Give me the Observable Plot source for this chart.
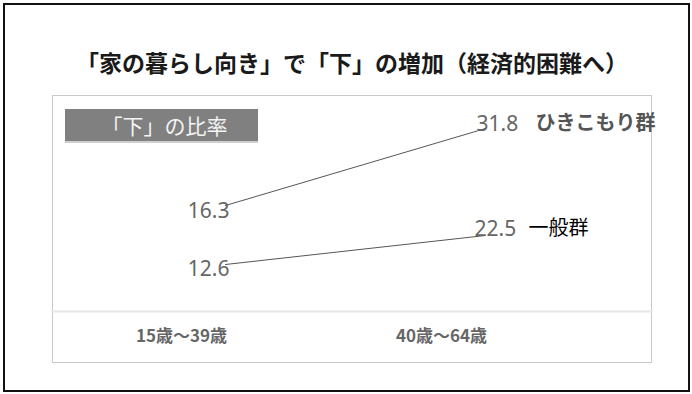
<!DOCTYPE html>
<html>
<head>
<meta charset="utf-8">
<script src="https://cdn.jsdelivr.net/npm/d3@7"></script>
<script src="https://cdn.jsdelivr.net/npm/@observablehq/plot@0.6"></script>
<style>
  html, body { margin: 0; padding: 0; background: #fff; }
  #wrap { position: relative; width: 692px; height: 394px; overflow: hidden; font-family: "Noto Sans CJK JP", "Noto Sans", sans-serif; }
  #border { position: absolute; left: 3px; top: 3px; width: 683px; height: 385px; border: 2px solid #111; }
  #title { position: absolute; left: 0; top: 47px; width: 692px; text-align: center; font-size: 23px; line-height: 30px; font-weight: bold; color: #1a1a1a; padding-left: 12px; box-sizing: border-box; }
  #tag { position: absolute; left: 65px; top: 109px; width: 193px; height: 34px; background: #808080; border-bottom: 2px solid #cfcfcf; color: #f4f4f4; font-size: 21px; line-height: 32px; text-align: center; padding-left: 6px; box-sizing: border-box; }
  .layer { position: absolute; left: 0; top: 80px; }
</style>
</head>
<body>
<div id="wrap">
  <div id="border"></div>
  <div id="title">「家の暮らし向き」で「下」の増加（経済的困難へ）</div>
  <div id="tag">「下」の比率</div>
  <div id="plotA" class="layer"></div>
  <div id="plotB" class="layer"></div>
</div>
<script>
// ---- data ----
const categories = ["15歳～39歳", "40歳～64歳"];
const hikikomoriValues = [16.3, 31.8];
const generalValues = [12.6, 22.5];
const seriesNames = ["ひきこもり群", "一般群"];

const hikikomori = categories.map((c, i) => ({category: c, value: hikikomoriValues[i], series: seriesNames[0]}));
const general = categories.map((c, i) => ({category: c, value: generalValues[i], series: seriesNames[1]}));

const common = {
  width: 692,
  height: 314,
  marginTop: 15,
  marginRight: 41,
  marginBottom: 32,
  marginLeft: 52,
  style: {background: "transparent", overflow: "visible"}
};
const xScale = {type: "point", domain: categories, range: [225, 485], padding: 0, axis: null};
const numFont = "'Noto Sans', sans-serif";
const jpFont = "'Noto Sans CJK JP', sans-serif";

// Plot A: frame, axis labels, baseline, ひきこもり群
const plotA = Plot.plot({
  ...common,
  x: xScale,
  y: {domain: [-15.3, 38.44], axis: null},
  marks: [
    Plot.frame({stroke: "#c8c8c8"}),
    Plot.frame({anchor: "bottom", insetBottom: 51, stroke: "#e6e6e6", strokeWidth: 2}),
    Plot.text(categories, {x: d => d, text: d => d, frameAnchor: "bottom", dy: -21, dx: -44,
      fontSize: 17, fontWeight: "bold", fill: "#666", fontFamily: jpFont}),
    Plot.line(hikikomori, {x: "category", y: "value", stroke: "#555", strokeWidth: 1}),
    Plot.text([hikikomori[0]], {x: "category", y: "value", text: d => d.value.toFixed(1), textAnchor: "end",
      dx: 4, dy: 6, fontSize: 21, fill: "#666", fontFamily: numFont}),
    Plot.text([hikikomori[1]], {x: "category", y: "value", text: d => d.value.toFixed(1), textAnchor: "start",
      dx: -9, dy: -4, fontSize: 21, fill: "#666", fontFamily: numFont}),
    Plot.text([hikikomori[1]], {x: "category", y: "value", text: "series", textAnchor: "start",
      dx: 50, dy: -5, fontSize: 20, fontWeight: "bold", fill: "#555", fontFamily: jpFont})
  ]
});
document.getElementById("plotA").append(plotA);

// Plot B: 一般群 (own vertical scale, overlaid)
const plotB = Plot.plot({
  ...common,
  x: xScale,
  y: {domain: [-20.86, 70.29], axis: null},
  marks: [
    Plot.line(general, {x: "category", y: "value", stroke: "#555", strokeWidth: 1}),
    Plot.text([general[0]], {x: "category", y: "value", text: d => d.value.toFixed(1), textAnchor: "end",
      dx: 4, dy: 5, fontSize: 21, fill: "#666", fontFamily: numFont}),
    Plot.text([general[1]], {x: "category", y: "value", text: d => d.value.toFixed(1), textAnchor: "start",
      dx: -11, dy: -6, fontSize: 21, fill: "#666", fontFamily: numFont}),
    Plot.text([general[1]], {x: "category", y: "value", text: "series", textAnchor: "start",
      dx: 43, dy: -7, fontSize: 20, fill: "#000", fontFamily: jpFont})
  ]
});
document.getElementById("plotB").append(plotB);
</script>
</body>
</html>
